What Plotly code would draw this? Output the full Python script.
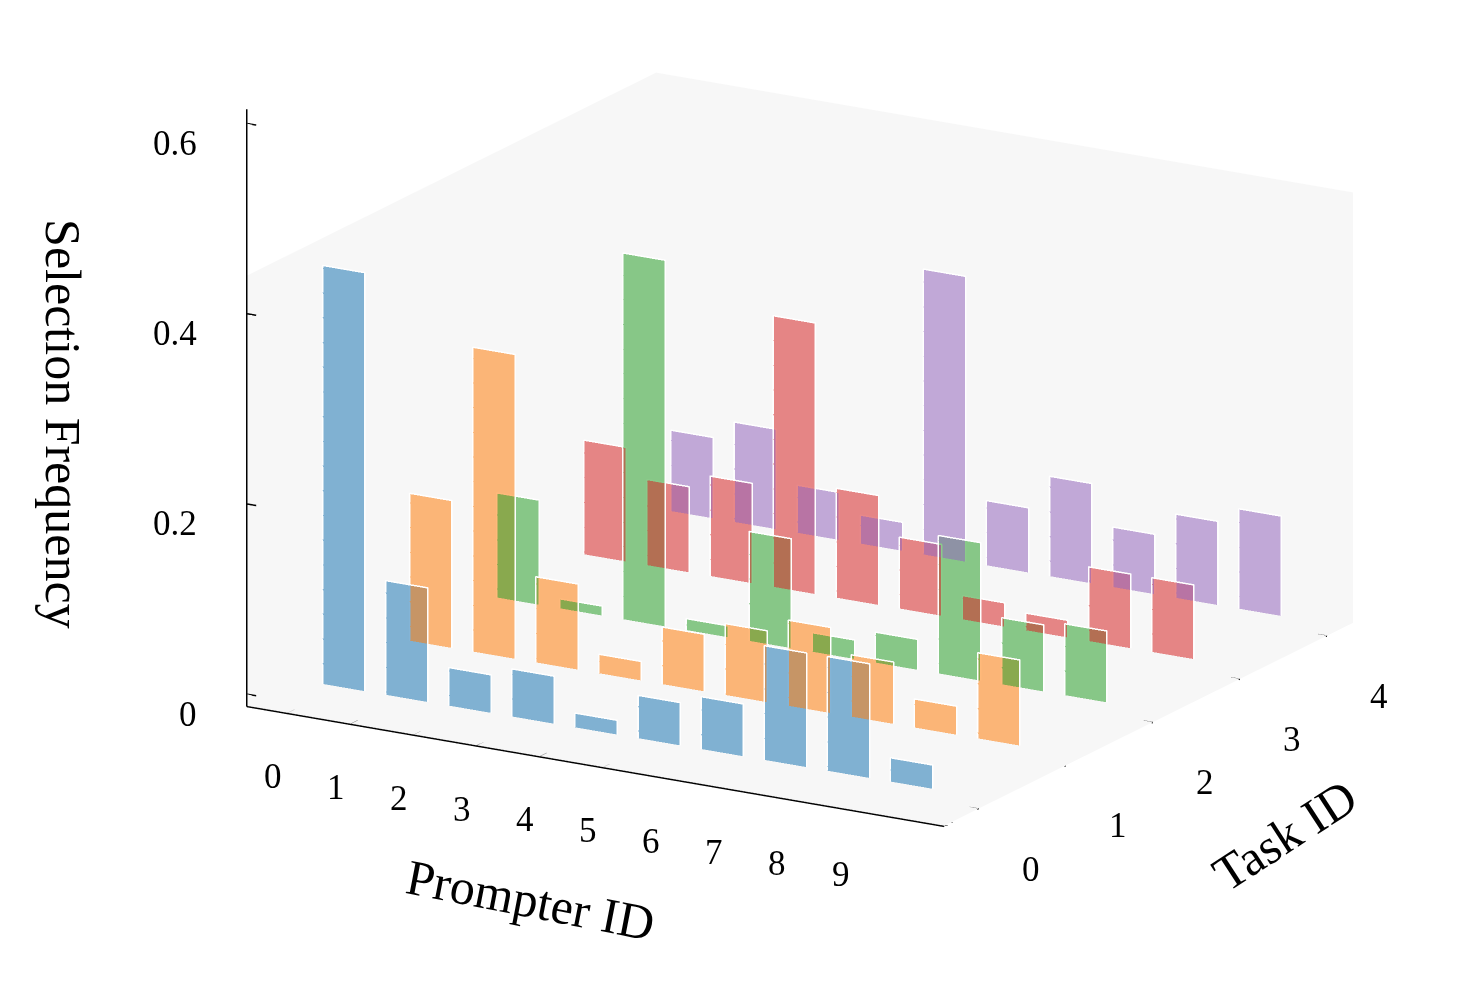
import plotly.graph_objects as go

prompter_ids = list(range(10))
task_ids = list(range(5))

# selection frequency of each prompter, one list per task
freq_task0 = [0.44, 0.12, 0.04, 0.05, 0.015, 0.045, 0.055, 0.12, 0.12, 0.025]
freq_task1 = [0.155, 0.32, 0.09, 0.02, 0.06, 0.075, 0.09, 0.065, 0.03, 0.09]
freq_task2 = [0.11, 0.01, 0.385, 0.012, 0.115, 0.02, 0.032, 0.145, 0.07, 0.075]
freq_task3 = [0.12, 0.09, 0.105, 0.285, 0.115, 0.075, 0.025, 0.018, 0.078, 0.078]
freq_task4 = [0.085, 0.105, 0.05, 0.03, 0.30, 0.068, 0.105, 0.063, 0.088, 0.105]
freqs = [freq_task0, freq_task1, freq_task2, freq_task3, freq_task4]

z_ticks = [0, 0.2, 0.4, 0.6]
z_tick_text = ["0", "0.2", "0.4", "0.6"]

colors = ["#1f77b4", "#ff7f0e", "#2ca02c", "#d62728", "#9467bd"]
bar_width = 0.67
x_range = [-0.65, 10.4]
y_range = [-0.4, 4.3]
z_range = [-0.013, 0.615]
pane_top = 0.44
pane_color = "#f7f7f7"
font = "Liberation Serif, Times New Roman, serif"
flat = dict(ambient=1, diffuse=0, specular=0, fresnel=0, roughness=1)

fig = go.Figure()

# light grey panes: floor, left wall, back wall
x0, x1 = x_range
y0, y1 = y_range
z0, z1 = z_range
eps = 0.002
panes = [
    ([x0, x1, x1, x0], [y0, y0, y1, y1], [z0 + 0.0005] * 4),
    ([x0 + eps] * 4, [y0, y1, y1, y0], [z0, z0, pane_top, pane_top]),
    ([x0, x1, x1, x0], [y1 - eps] * 4, [z0, z0, pane_top, pane_top]),
]
for px, py, pz in panes:
    fig.add_trace(go.Mesh3d(
        x=px, y=py, z=pz, i=[0, 0], j=[1, 2], k=[2, 3],
        color=pane_color, opacity=1, lighting=flat,
        hoverinfo="skip", showscale=False,
    ))

for t, vals in zip(task_ids, freqs):
    xs, ys, zs, ii, jj, kk = [], [], [], [], [], []
    ex, ey, ez = [], [], []
    for p, h in zip(prompter_ids, vals):
        n = len(xs)
        xa, xb = p, p + bar_width
        xs += [xa, xb, xb, xa]
        ys += [t, t, t, t]
        zs += [0, 0, h, h]
        ii += [n, n]
        jj += [n + 1, n + 2]
        kk += [n + 2, n + 3]
        ex += [xa, xa, xb, xb, None]
        ey += [t, t, t, t, None]
        ez += [0, h, h, 0, None]
    fig.add_trace(go.Mesh3d(
        x=xs, y=ys, z=zs, i=ii, j=jj, k=kk,
        color=colors[t], opacity=0.55, flatshading=True, lighting=flat,
        name=f"Task {t}", showscale=False,
    ))
    fig.add_trace(go.Scatter3d(
        x=ex, y=ey, z=ez, mode="lines",
        line=dict(color="white", width=3),
        hoverinfo="skip", showlegend=False,
    ))

# axis lines with small crossing ticks, matplotlib style
lx, ly, lz = [], [], []
lx += [x0, x1, None, x1, x1, None, x0, x0, None]
ly += [y0, y0, None, y0, y1, None, y0, y0, None]
lz += [z0, z0, None, z0, z0, None, z0, z1, None]
for p in prompter_ids:
    lx += [p, p, None]
    ly += [y0 - 0.08, y0 + 0.08, None]
    lz += [z0, z0, None]
for t in task_ids:
    lx += [x1 - 0.15, x1 + 0.15, None]
    ly += [t, t, None]
    lz += [z0, z0, None]
for zv in z_ticks:
    lx += [x0 - 0.15, x0 + 0.15, None]
    ly += [y0, y0, None]
    lz += [zv, zv, None]
fig.add_trace(go.Scatter3d(
    x=lx, y=ly, z=lz, mode="lines",
    line=dict(color="black", width=3),
    hoverinfo="skip", showlegend=False,
))

axis_common = dict(
    showgrid=False, zeroline=False, showbackground=False,
    showline=False, ticks="", showspikes=False,
    showticklabels=False, title=dict(text=""),
)

# tick labels and axis titles as scene annotations
tick_font = dict(family=font, size=35, color="black")
title_font = dict(family=font, size=50, color="black")
annos = []
for p in prompter_ids:
    annos.append(dict(x=p, y=y0, z=z0, text=str(p), showarrow=False,
                      xshift=-15, yshift=-63, font=tick_font))
for t in task_ids:
    annos.append(dict(x=x1, y=t, z=z0, text=str(t), showarrow=False,
                      xshift=52, yshift=-60, font=tick_font))
for zv, zt in zip(z_ticks, z_tick_text):
    annos.append(dict(x=x0, y=y0, z=zv, text=zt, showarrow=False, xanchor="right",
                      xshift=-48, yshift=-20, font=tick_font))
annos.append(dict(x=4, y=y0, z=z0, text="Prompter ID", showarrow=False,
                  xshift=-10, yshift=-143, textangle=11, font=title_font))
annos.append(dict(x=x1, y=2, z=z0, text="Task ID", showarrow=False,
                  xshift=132, yshift=-112, textangle=-33, font=title_font))
annos.append(dict(x=x0, y=y0, z=0.3, text="Selection Frequency", showarrow=False,
                  xshift=-184, yshift=-15, textangle=90, font=title_font))

c = (-0.0681, -0.1335, -0.2636)
eye_dir = (0.485, -0.824, 0.292)
r = 2.0

fig.update_layout(
    width=1459, height=989,
    paper_bgcolor="white",
    margin=dict(l=0, r=0, t=0, b=0),
    showlegend=False,
    scene=dict(
        xaxis=dict(axis_common, range=x_range),
        yaxis=dict(axis_common, range=y_range),
        zaxis=dict(axis_common, range=z_range),
        aspectmode="manual",
        aspectratio=dict(x=1.636, y=1.632, z=1.263),
        camera=dict(
            eye=dict(x=c[0] + eye_dir[0] * r, y=c[1] + eye_dir[1] * r, z=c[2] + eye_dir[2] * r),
            center=dict(x=c[0], y=c[1], z=c[2]),
            up=dict(x=0, y=0, z=1),
            projection=dict(type="orthographic"),
        ),
        annotations=annos,
    ),
)

fig.write_html("out.html")
